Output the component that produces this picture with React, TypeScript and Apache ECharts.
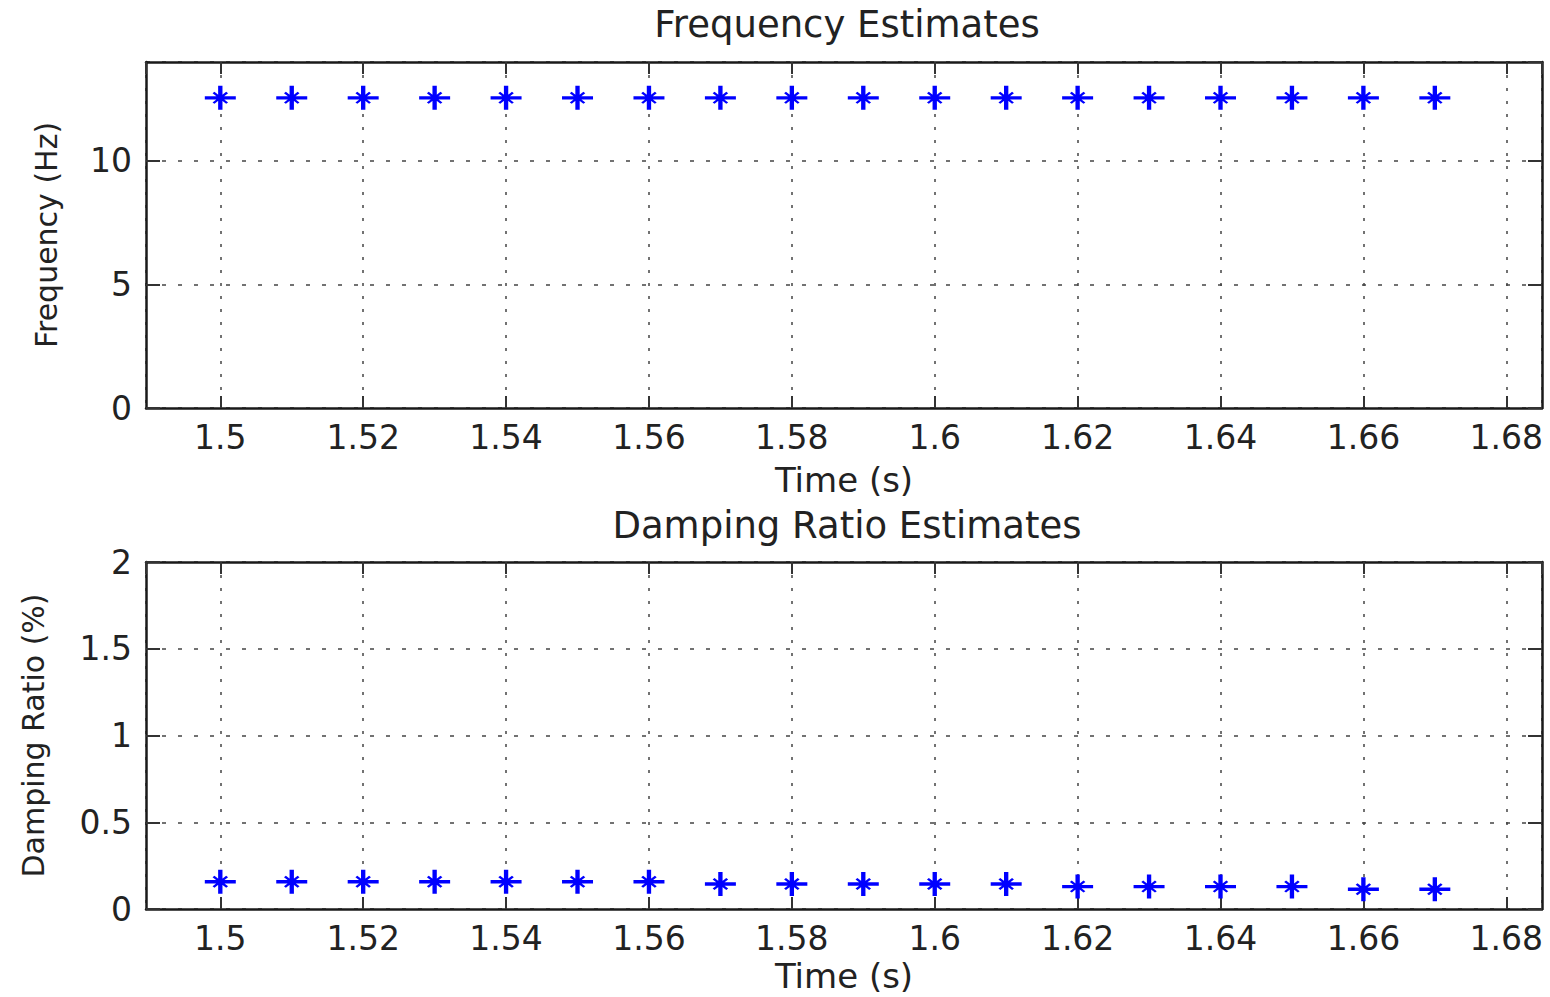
import React, { useEffect, useRef } from "react";
import * as echarts from "echarts";

// ---- data ----
const times = [1.5, 1.51, 1.52, 1.53, 1.54, 1.55, 1.56, 1.57, 1.58, 1.59, 1.6, 1.61, 1.62, 1.63, 1.64, 1.65, 1.66, 1.67];
const frequencyHz = [12.55, 12.55, 12.55, 12.55, 12.55, 12.55, 12.55, 12.55, 12.55, 12.55, 12.55, 12.55, 12.55, 12.55, 12.55, 12.55, 12.55, 12.55];
const dampingPct = [0.157, 0.157, 0.157, 0.157, 0.157, 0.157, 0.157, 0.144, 0.144, 0.144, 0.144, 0.144, 0.129, 0.129, 0.129, 0.129, 0.114, 0.114];

const titles = ["Frequency Estimates", "Damping Ratio Estimates"];
const xName = "Time (s)";
const yNames = ["Frequency (Hz)", "Damping Ratio (%)"];

const X_MIN = 1.4896;
const X_MAX = 1.685;
const FONT = "DejaVu Sans";
const TXT = "#222";
const STAR =
  "path://M0,8.6H20V11.4H0Z M8.6,0H11.4V20H8.6Z M6.2,5L15,13.8L13.8,15L5,6.2Z M13.8,5L15,6.2L6.2,15L5,13.8Z";

const axisLineStyle = { show: true, onZero: false, lineStyle: { color: "#1a1a1a", width: 2.5 } };

function xAxes(gridIndex: number, nameGap: number) {
  const common = {
    type: "value",
    gridIndex,
    min: X_MIN,
    max: X_MAX,
    splitNumber: 10,
    minInterval: 0.02,
    maxInterval: 0.02,
    axisLine: axisLineStyle,
    axisTick: { show: true, inside: true, length: 12, lineStyle: { color: "#333", width: 2 } },
  };
  return [
    {
      ...common,
      position: "bottom",
      name: xName,
      nameLocation: "middle",
      nameGap,
      nameTextStyle: { fontSize: 34, fontFamily: FONT, color: TXT },
      axisLabel: {
        show: true,
        fontSize: 33,
        fontFamily: FONT,
        color: TXT,
        margin: 13,
        showMinLabel: false,
        showMaxLabel: false,
        formatter: (v: number) => String(+v.toFixed(2)),
      },
      splitLine: { show: true, lineStyle: { type: [3, 10], color: "#444", width: 1.5 } },
    },
    {
      ...common,
      position: "top",
      axisLabel: { show: false },
      splitLine: { show: false },
    },
  ];
}

function yAxes(gridIndex: number, max: number, interval: number, name: string, nameGap: number) {
  const common = {
    type: "value",
    gridIndex,
    min: 0,
    max,
    interval,
    axisLine: axisLineStyle,
    axisTick: { show: true, inside: true, length: 14, lineStyle: { color: "#333", width: 2 } },
  };
  return [
    {
      ...common,
      position: "left",
      name,
      nameLocation: "middle",
      nameGap,
      nameTextStyle: { fontSize: 30, fontFamily: FONT, color: TXT },
      axisLabel: {
        show: true,
        fontSize: 33,
        fontFamily: FONT,
        color: TXT,
        margin: 14,
        showMinLabel: true,
        showMaxLabel: max % interval === 0,
      },
      splitLine: { show: true, lineStyle: { type: [4, 12], color: "#444", width: 1.5 } },
    },
    {
      ...common,
      position: "right",
      axisLabel: { show: false },
      splitLine: { show: false },
    },
  ];
}

export default function App() {
  const ref = useRef<HTMLDivElement>(null);
  useEffect(() => {
    if (!ref.current) return;
    const chart = echarts.init(ref.current, undefined, { renderer: "svg" });
    const starStyle = { color: "#0000ff", opacity: 1 };
    chart.setOption({
      animation: false,
      backgroundColor: "#ffffff",
      title: [
        {
          text: titles[0],
          left: 842,
          top: 1,
          textAlign: "center",
          textStyle: { fontSize: 37, fontWeight: "normal", fontFamily: FONT, color: TXT },
        },
        {
          text: titles[1],
          left: 842,
          top: 502,
          textAlign: "center",
          textStyle: { fontSize: 37, fontWeight: "normal", fontFamily: FONT, color: TXT },
        },
      ],
      grid: [
        { left: 146, top: 62, width: 1396, height: 346 },
        { left: 146, top: 562, width: 1396, height: 347 },
      ],
      xAxis: [...xAxes(0, 55), ...xAxes(1, 50)],
      yAxis: [
        ...yAxes(0, 14, 5, yNames[0], 85),
        ...yAxes(1, 2, 0.5, yNames[1], 98),
      ],
      series: [
        {
          type: "scatter",
          xAxisIndex: 0,
          yAxisIndex: 0,
          symbol: STAR,
          symbolSize: [31, 24],
          itemStyle: starStyle,
          data: times.map((t, i) => [t, frequencyHz[i]]),
        },
        {
          type: "scatter",
          xAxisIndex: 2,
          yAxisIndex: 2,
          symbol: STAR,
          symbolSize: [31, 24],
          itemStyle: starStyle,
          data: times.map((t, i) => [t, dampingPct[i]]),
        },
      ],
    });
    return () => chart.dispose();
  }, []);
  return (
    <div
      ref={ref}
      style={{ position: "absolute", left: 0, top: 0, width: 1550, height: 997, background: "#fff" }}
    />
  );
}
